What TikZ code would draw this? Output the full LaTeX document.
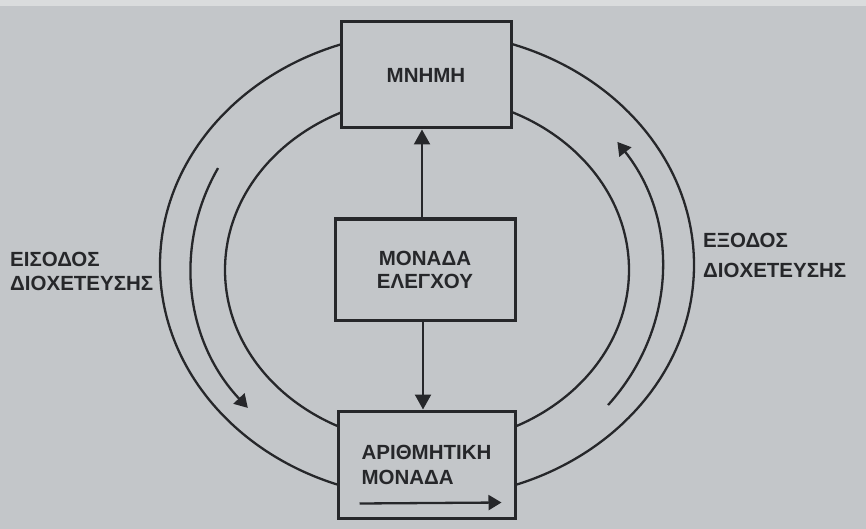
\documentclass[tikz,border=0pt]{standalone}
\usepackage{fontspec}
\setmainfont{Liberation Sans}
\usetikzlibrary{arrows.meta,calc}
\definecolor{paper}{HTML}{C3C6C9}
\definecolor{paperlight}{HTML}{DADCDD}
\definecolor{ink}{HTML}{26272A}
\begin{document}
\begin{tikzpicture}[x=1pt,y=-1pt,
  unitbox/.style={draw=ink,line width=3pt,fill=paper,rectangle,inner sep=0pt,
    text=ink,font=\bfseries\fontsize{20.5}{23}\selectfont,align=center},
  ring/.style={draw=ink,line width=2.3pt},
  flow/.style={draw=ink,line width=2.3pt,-{Triangle[width=16pt,length=15pt]}},
  caption/.style={text=ink,font=\bfseries\fontsize{20.5}{24}\selectfont,align=left,inner sep=0pt}]
  % page
  \fill[paper] (0,0) rectangle (866,529);
  \fill[paperlight] (0,0) rectangle (866,6);
  \useasboundingbox (0,0) rectangle (866,529);
  % centres of the rings
  \coordinate (co) at (427,265);
  \coordinate (ci) at (427,270);
  \coordinate (ca) at (427,268);
  % the two data rings
  \draw[ring] (co) ellipse [x radius=267pt, y radius=233pt];
  \draw[ring] (ci) ellipse [x radius=202pt, y radius=174pt];
  % the units sit on top of the rings
  \node[unitbox,minimum width=170pt,minimum height=106pt] (mem) at (426,75) {ΜΝΗΜΗ};
  \node[unitbox,minimum width=180pt,minimum height=101pt] (ctl) at (425,269.5) {ΜΟΝΑΔΑ\\ΕΛΕΓΧΟΥ};
  \node[unitbox,minimum width=177pt,minimum height=107pt,align=left] (alu) at (426.5,464.5)
    {\raisebox{2pt}{ΑΡΙΘΜΗΤΙΚΗ}\\ΜΟΝΑΔΑ\hspace*{36pt}};
  % control unit to memory and to arithmetic unit
  \draw[flow] ([xshift=-3pt]ctl.north) -- ([xshift=-4pt]mem.south);
  \draw[flow] ([xshift=-2pt]ctl.south) -- ([xshift=-3.5pt]alu.north);
  % flow inside the arithmetic unit
  \coordinate (af) at ($(alu.south west)+(23,-16)$);
  \coordinate (at) at ($(alu.south west)+(165,-17)$);
  \draw[flow,-{Triangle[width=15pt,length=13pt]}] (af) -- (at);
  % input and output flow arrows
  \coordinate (li) at ($(ca)+(152.3:236pt and 215pt)$);
  \coordinate (ro) at ($(ca)+(-39.6:235pt and 215pt)$);
  \draw[flow,-{Triangle[width=15pt,length=13pt]}] (li)
    arc[start angle=152.3, end angle=220.6, x radius=236pt, y radius=215pt];
  \draw[flow,-{Triangle[width=15pt,length=13pt]}] (ro)
    arc[start angle=-39.6, end angle=35.9, x radius=235pt, y radius=215pt];
  % side captions
  \node[caption,anchor=west] (inlab) at (10,271) {ΕΙΣΟΔΟΣ\\ΔΙΟΧΕΤΕΥΣΗΣ};
  \node[caption,anchor=west,font=\bfseries\fontsize{20.5}{30}\selectfont] (outlab) at (703,255) {ΕΞΟΔΟΣ\\ΔΙΟΧΕΤΕΥΣΗΣ};
\end{tikzpicture}
\end{document}
